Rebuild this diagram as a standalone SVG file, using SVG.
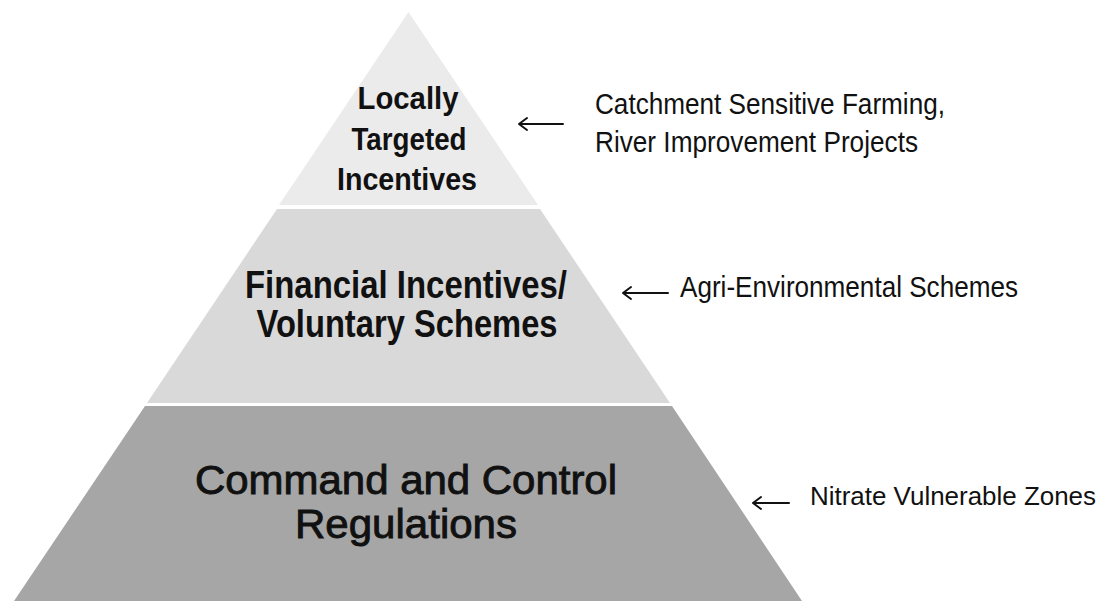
<svg xmlns="http://www.w3.org/2000/svg" width="1108" height="601" viewBox="0 0 1108 601">
  <style>
    .tier-label { font-family: "Liberation Sans", Arial, sans-serif; font-weight: bold; fill: #111; text-anchor: middle; }
    .tier-label-medium { font-family: "Liberation Sans", Arial, sans-serif; fill: #111; stroke: #111; stroke-width: 0.9; text-anchor: middle; }
    .note { font-family: "Liberation Sans", Arial, sans-serif; font-size: 29px; fill: #111; }
    .note-small { font-size: 26px; }
    .arrow { fill: none; stroke: #111; stroke-width: 2; stroke-linecap: round; stroke-linejoin: round; }
  </style>
  <rect width="1108" height="601" fill="#ffffff"/>

  <!-- Top tier -->
  <g id="tier-local">
    <polygon points="408.5,12 538,205 279,205" fill="#ebebeb"/>
    <text class="tier-label" font-size="31" x="408" y="109" textLength="101" lengthAdjust="spacingAndGlyphs">Locally</text>
    <text class="tier-label" font-size="31" x="409" y="150" textLength="115" lengthAdjust="spacingAndGlyphs">Targeted</text>
    <text class="tier-label" font-size="31" x="407" y="190" textLength="140" lengthAdjust="spacingAndGlyphs">Incentives</text>
  </g>

  <!-- Middle tier -->
  <g id="tier-financial">
    <polygon points="277,209 540,209 670,403 147,403" fill="#d9d9d9"/>
    <text class="tier-label" font-size="39" x="406" y="298" textLength="322" lengthAdjust="spacingAndGlyphs">Financial Incentives/</text>
    <text class="tier-label" font-size="39" x="407" y="337" textLength="301" lengthAdjust="spacingAndGlyphs">Voluntary Schemes</text>
  </g>

  <!-- Bottom tier -->
  <g id="tier-command">
    <polygon points="145,406 672,406 802,601 14,601" fill="#a6a6a6"/>
    <text class="tier-label-medium" font-size="41" x="406" y="494" textLength="422" lengthAdjust="spacingAndGlyphs">Command and Control</text>
    <text class="tier-label-medium" font-size="41" x="406" y="538" textLength="222" lengthAdjust="spacingAndGlyphs">Regulations</text>
  </g>

  <!-- Side notes -->
  <g id="note-local">
    <text class="note" x="595" y="114" textLength="350" lengthAdjust="spacingAndGlyphs">Catchment Sensitive Farming,</text>
    <text class="note" x="595" y="152" textLength="323" lengthAdjust="spacingAndGlyphs">River Improvement Projects</text>
  </g>
  <g id="note-financial">
    <text class="note" x="680" y="297" textLength="338" lengthAdjust="spacingAndGlyphs">Agri-Environmental Schemes</text>
  </g>
  <g id="note-command">
    <text class="note note-small" x="810" y="505" textLength="286" lengthAdjust="spacingAndGlyphs">Nitrate Vulnerable Zones</text>
  </g>

  <!-- Pointers from notes to tiers -->
  <g id="connectors">
    <path class="arrow" d="M563,124 H519 M527,118 L519,124 L527,130"/>
    <path class="arrow" d="M668,293 H623 M631,287 L623,293 L631,299"/>
    <path class="arrow" d="M789,503 H753 M761,497 L753,503 L761,509"/>
  </g>
</svg>
